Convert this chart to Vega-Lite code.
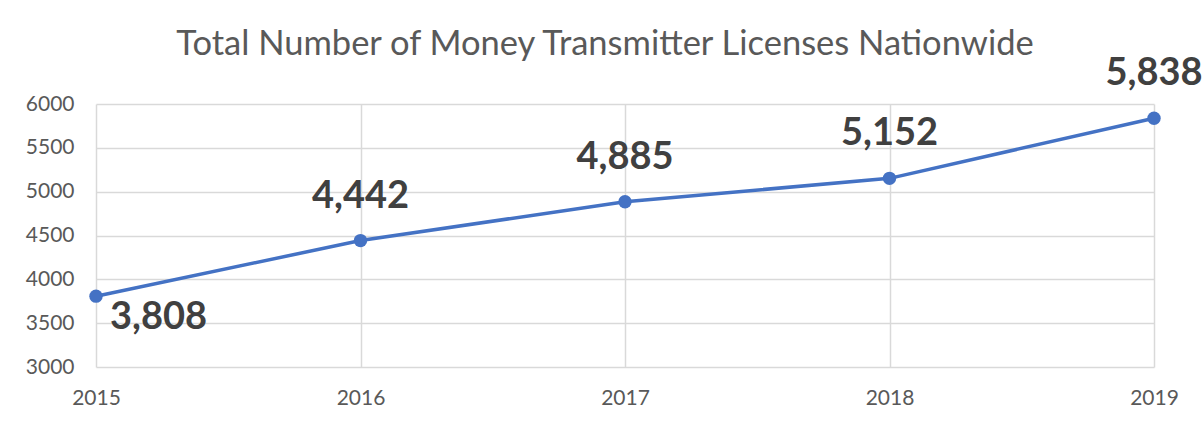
{
  "$schema": "https://vega.github.io/schema/vega-lite/v6.json",
  "width": 1058,
  "height": 263,
  "autosize": {"type": "none"},
  "padding": {"left": 96, "top": 104, "right": 49, "bottom": 59},
  "background": "white",
  "config": {"view": {"stroke": null}, "font": "Lato"},
  "title": {
    "text": "Total Number of Money Transmitter Licenses Nationwide",
    "font": "Lato",
    "fontSize": 34.5,
    "fontWeight": "normal",
    "color": "#595959",
    "anchor": "middle",
    "frame": "group",
    "dx": -20,
    "offset": -7
  },
  "data": {
    "values": [
      {"year": "2015", "licenses": 3808, "label": "3,808"},
      {"year": "2016", "licenses": 4442, "label": "4,442"},
      {"year": "2017", "licenses": 4885, "label": "4,885"},
      {"year": "2018", "licenses": 5152, "label": "5,152"},
      {"year": "2019", "licenses": 5838, "label": "5,838"}
    ]
  },
  "encoding": {
    "x": {
      "field": "year",
      "type": "ordinal",
      "scale": {"type": "point", "padding": 0},
      "axis": {
        "title": null,
        "labelAngle": 0,
        "labelFontSize": 21,
        "labelColor": "#595959",
        "labelPadding": 20,
        "ticks": false,
        "domain": false,
        "grid": true,
        "gridColor": "#D9D9D9",
        "gridWidth": 1.5
      }
    },
    "y": {
      "field": "licenses",
      "type": "quantitative",
      "scale": {"domain": [3000, 6000], "nice": false, "zero": false},
      "axis": {
        "title": null,
        "values": [3000, 3500, 4000, 4500, 5000, 5500, 6000],
        "format": "d",
        "labelFontSize": 21,
        "labelColor": "#595959",
        "labelPadding": 22,
        "ticks": false,
        "domain": false,
        "grid": true,
        "gridColor": "#D9D9D9",
        "gridWidth": 1.5
      }
    }
  },
  "layer": [
    {"mark": {"type": "line", "color": "#4472C4", "strokeWidth": 3.5}},
    {"mark": {"type": "point", "filled": true, "color": "#4472C4", "size": 180, "opacity": 1}},
    {
      "transform": [{"filter": "datum.year == '2015'"}],
      "mark": {"type": "text", "font": "Lato", "fontSize": 38, "fontWeight": "bold", "color": "#404040", "align": "left", "baseline": "middle", "dx": 14, "dy": 22},
      "encoding": {"text": {"field": "label"}}
    },
    {
      "transform": [{"filter": "datum.year != '2015'"}],
      "mark": {"type": "text", "font": "Lato", "fontSize": 38, "fontWeight": "bold", "color": "#404040", "align": "center", "baseline": "middle", "dy": -44},
      "encoding": {"text": {"field": "label"}}
    }
  ]
}
